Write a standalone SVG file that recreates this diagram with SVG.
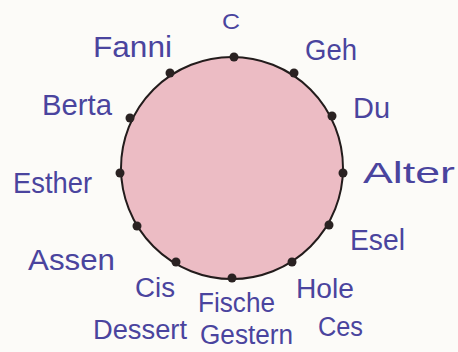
<svg xmlns="http://www.w3.org/2000/svg" width="458" height="352" viewBox="0 0 458 352">
  <style>
    .lbl { font-family: "Liberation Sans", "DejaVu Sans", sans-serif; font-size: 30px; fill: #4a449e; }
    .sm { font-size: 27px; }
    .dot { fill: #2a2222; }
    .ring { fill: #ecbcc4; stroke: #231c1c; stroke-width: 2; }
  </style>
  <rect width="458" height="352" fill="#fcfbf8"/>
  <g id="circle">
    <circle class="ring" cx="232" cy="168" r="111"/>
  </g>
  <g id="connectors"/>
  <g id="node-C">
    <circle class="dot" cx="234" cy="57" r="4.5"/>
    <text class="lbl" x="222" y="29" style="font-size:22px" textLength="18" lengthAdjust="spacingAndGlyphs">C</text>
  </g>
  <g id="node-Geh">
    <circle class="dot" cx="294" cy="73" r="4.5"/>
    <text class="lbl" x="305" y="60" textLength="52" lengthAdjust="spacingAndGlyphs">Geh</text>
  </g>
  <g id="node-Du">
    <circle class="dot" cx="332" cy="116" r="4.5"/>
    <text class="lbl" x="353" y="118" textLength="37" lengthAdjust="spacingAndGlyphs">Du</text>
  </g>
  <g id="node-Alter">
    <circle class="dot" cx="343" cy="173" r="4.5"/>
    <text class="lbl" x="363" y="183" textLength="92" lengthAdjust="spacingAndGlyphs">Alter</text>
  </g>
  <g id="node-Esel">
    <circle class="dot" cx="329" cy="225" r="4.5"/>
    <text class="lbl" x="350" y="250" textLength="55" lengthAdjust="spacingAndGlyphs">Esel</text>
  </g>
  <g id="node-Hole-Ces">
    <circle class="dot" cx="292" cy="262" r="4.5"/>
    <text class="lbl sm" x="296" y="298" textLength="58" lengthAdjust="spacingAndGlyphs">Hole</text>
    <text class="lbl sm" x="318" y="336" textLength="45" lengthAdjust="spacingAndGlyphs">Ces</text>
  </g>
  <g id="node-Fische-Gestern">
    <circle class="dot" cx="232" cy="278" r="4.5"/>
    <text class="lbl sm" x="198" y="312" textLength="77" lengthAdjust="spacingAndGlyphs">Fische</text>
    <text class="lbl sm" x="200" y="344" textLength="93" lengthAdjust="spacingAndGlyphs">Gestern</text>
  </g>
  <g id="node-Cis-Dessert">
    <circle class="dot" cx="176" cy="262" r="4.5"/>
    <text class="lbl sm" x="135" y="297" textLength="40" lengthAdjust="spacingAndGlyphs">Cis</text>
    <text class="lbl sm" x="93" y="339" textLength="94" lengthAdjust="spacingAndGlyphs">Dessert</text>
  </g>
  <g id="node-Assen">
    <circle class="dot" cx="137" cy="226" r="4.5"/>
    <text class="lbl" x="28" y="270" textLength="87" lengthAdjust="spacingAndGlyphs">Assen</text>
  </g>
  <g id="node-Esther">
    <circle class="dot" cx="120" cy="173" r="4.5"/>
    <text class="lbl" x="13" y="193" textLength="79" lengthAdjust="spacingAndGlyphs">Esther</text>
  </g>
  <g id="node-Berta">
    <circle class="dot" cx="130" cy="118" r="4.5"/>
    <text class="lbl" x="42" y="115" textLength="70" lengthAdjust="spacingAndGlyphs">Berta</text>
  </g>
  <g id="node-Fanni">
    <circle class="dot" cx="170" cy="73" r="4.5"/>
    <text class="lbl" x="93" y="57" textLength="79" lengthAdjust="spacingAndGlyphs">Fanni</text>
  </g>
</svg>
